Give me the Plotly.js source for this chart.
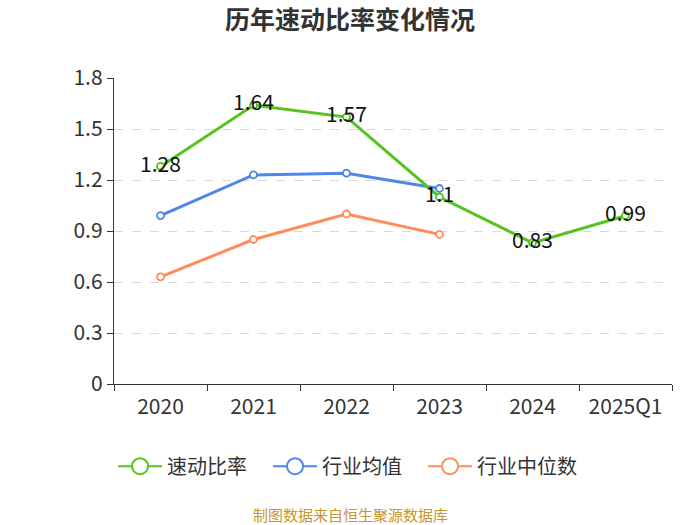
<!DOCTYPE html>
<html>
<head>
<meta charset="utf-8">
<script src="https://cdn.plot.ly/plotly-3.0.1.min.js"></script>
<style>html,body{margin:0;padding:0;background:#fff}#chart{width:700px;height:525px}</style>
</head>
<body>
<div id="chart"></div>
<script>
const categories = ["2020", "2021", "2022", "2023", "2024", "2025Q1"];
const quickRatio = [1.28, 1.64, 1.57, 1.10, 0.83, 0.99];
const quickRatioLabels = ["1.28", "1.64", "1.57", "1.1", "0.83", "0.99"];
const industryMean = [0.99, 1.23, 1.24, 1.15, null, null];
const industryMedian = [0.63, 0.85, 1.00, 0.88, null, null];
const seriesNames = ["速动比率", "行业均值", "行业中位数"];
const seriesColors = ["#58C21F", "#4F86EB", "#FF8C5A"];
const yTicks = [0, 0.3, 0.6, 0.9, 1.2, 1.5, 1.8];
const yTickLabels = ["0", "0.3", "0.6", "0.9", "1.2", "1.5", "1.8"];

const FONT = "'Noto Sans CJK SC', 'Noto Sans', sans-serif";

function series(y, name, color, text) {
  const t = {
    x: categories, y: y, name: name, type: "scatter",
    mode: text ? "lines+markers+text" : "lines+markers",
    line: {color: color, width: 3},
    marker: {symbol: "circle", size: 7, color: "#ffffff", line: {color: color, width: 1.8}},
    cliponaxis: false,
    connectgaps: false,
    showlegend: false
  };
  if (text) {
    t.text = text;
    t.textposition = "middle center";
    t.textfont = {family: FONT, size: 21, color: "#111"};
  }
  return t;
}

function legendEntry(name, color) {
  return {
    x: [null], y: [null], name: name, type: "scatter", mode: "lines+markers",
    line: {color: color, width: 2},
    marker: {symbol: "circle", size: 16, color: "#ffffff", line: {color: color, width: 2}},
    showlegend: true
  };
}

const data = [
  series(industryMedian, seriesNames[2], seriesColors[2]),
  series(industryMean, seriesNames[1], seriesColors[1]),
  series(quickRatio, seriesNames[0], seriesColors[0], quickRatioLabels),
  legendEntry(seriesNames[0], seriesColors[0]),
  legendEntry(seriesNames[1], seriesColors[1]),
  legendEntry(seriesNames[2], seriesColors[2])
];

const pageCenter = (350 - 114) / 558;

const layout = {
  width: 700, height: 525,
  margin: {l: 114, r: 28, t: 78, b: 141},
  paper_bgcolor: "#fff", plot_bgcolor: "#fff",
  font: {family: FONT, color: "#333"},
  title: {text: "<b>历年速动比率变化情况</b>", x: 0.5, xanchor: "center", y: 0.962, yanchor: "middle",
          font: {family: FONT, size: 25, color: "#333"}},
  xaxis: {
    type: "category", range: [-0.5, 5.5], fixedrange: true,
    showline: true, linecolor: "#333", linewidth: 1.2,
    ticks: "outside", ticklen: 6, tickcolor: "#333", tickson: "boundaries",
    ticklabelstandoff: 4,
    showgrid: false, zeroline: false,
    tickfont: {family: FONT, size: 21, color: "#333"}
  },
  yaxis: {
    range: [0, 1.8], fixedrange: true,
    tickvals: yTicks, ticktext: yTickLabels,
    showline: true, linecolor: "#333", linewidth: 1.2,
    ticks: "outside", ticklen: 6, tickcolor: "#333",
    showgrid: true, gridcolor: "#d9d9d9", griddash: "dash", gridwidth: 1,
    zeroline: false,
    tickfont: {family: FONT, size: 21, color: "#333"}
  },
  showlegend: true,
  legend: {
    orientation: "h", x: pageCenter - 0.008, xanchor: "center", y: -0.205, yanchor: "top",
    font: {family: FONT, size: 20, color: "#333"},
    itemwidth: 44,
    entrywidth: 96, entrywidthmode: "pixels"
  },
  annotations: [{
    text: "制图数据来自恒生聚源数据库", xref: "paper", yref: "paper",
    x: pageCenter, xanchor: "center", y: -0.425, yanchor: "middle",
    showarrow: false, font: {family: FONT, size: 15, color: "#C8962E"}
  }]
};

Plotly.newPlot("chart", data, layout, {displayModeBar: false, staticPlot: true});
</script>
</body>
</html>
